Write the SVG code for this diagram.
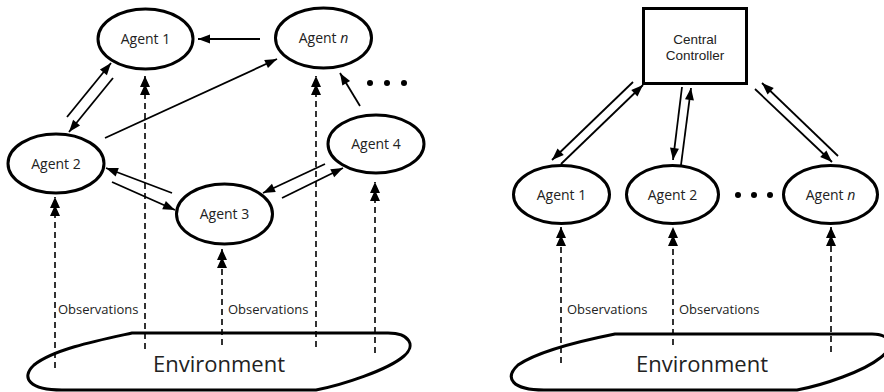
<svg xmlns="http://www.w3.org/2000/svg" width="884" height="392" viewBox="0 0 884 392">
<defs>
<marker id="ah" markerUnits="userSpaceOnUse" markerWidth="16" markerHeight="12" viewBox="-13 -6 14 12" refX="0" refY="0" orient="auto">
<path d="M0,0 L-12,-4.5 L-12,4.5 Z" fill="#000"/>
</marker>
<marker id="dh" markerUnits="userSpaceOnUse" markerWidth="22" markerHeight="12" viewBox="-21 -6 22 12" refX="0" refY="0" orient="auto">
<path d="M0,0 L-11,-5 L-11,5 Z M-8,0 L-19,-5 L-19,5 Z" fill="#000"/>
</marker>
<style>
.node{fill:#fff;stroke:#000;stroke-width:3}
.env{fill:#fff;stroke:#000;stroke-width:3}
.lbl{font-family:"Open Sans","Noto Sans",sans-serif;font-size:14px;fill:#222;text-anchor:middle}
.cc{font-family:"Liberation Sans",Arial,sans-serif;font-size:13.5px;fill:#222;text-anchor:middle}
.obs{font-family:"Open Sans","Noto Sans",sans-serif;font-size:13px;fill:#222}
.envt{font-family:"Open Sans","Noto Sans",sans-serif;font-size:22px;fill:#222;text-anchor:middle}
.sol{stroke:#000;stroke-width:1.8;fill:none;marker-end:url(#ah)}
.dash{stroke:#000;stroke-width:1.6;stroke-dasharray:6,4;fill:none;marker-end:url(#dh)}
</style>
</defs>
<g id="env-left">
<path class="env" d="M132,333 L388,333 C410,333 416,346 404,356 C388,370 342,385 316,390 L62,390 C30,390 20,378 34,365 C54,349 100,340 132,333 Z"/>
<text class="envt" x="219" y="372">Environment</text>
</g>
<g id="env-right">
<path class="env" d="M615,334 L872,334 C892,334 894,348 880,358 C864,371 824,385 797,390 L544,390 C512,390 504,378 518,365 C540,350 585,340 615,334 Z"/>
<text class="envt" x="702" y="372">Environment</text>
</g>
<g id="connectors">
<line class="dash" x1="55" y1="368" x2="55" y2="197"/>
<line class="dash" x1="145" y1="349" x2="145" y2="76"/>
<line class="dash" x1="222" y1="345" x2="222" y2="249"/>
<line class="dash" x1="316" y1="347" x2="316" y2="76"/>
<line class="dash" x1="375" y1="353" x2="375" y2="182"/>
<line class="dash" x1="561" y1="363" x2="561" y2="227"/>
<line class="dash" x1="673" y1="345" x2="673" y2="227"/>
<line class="dash" x1="831" y1="352" x2="831" y2="227"/>
<line class="sol" x1="260" y1="39" x2="198" y2="39"/>
<line class="sol" x1="67" y1="117" x2="111" y2="63"/>
<line class="sol" x1="113" y1="78" x2="69" y2="132"/>
<line class="sol" x1="105" y1="138" x2="277" y2="59"/>
<line class="sol" x1="360" y1="106" x2="340" y2="73"/>
<line class="sol" x1="172" y1="193" x2="106" y2="168"/>
<line class="sol" x1="112" y1="182" x2="175" y2="210"/>
<line class="sol" x1="325" y1="164" x2="263" y2="193"/>
<line class="sol" x1="282" y1="198" x2="343" y2="168"/>
<line class="sol" x1="633" y1="82" x2="552" y2="160"/>
<line class="sol" x1="561" y1="164" x2="643" y2="85"/>
<line class="sol" x1="682" y1="87" x2="673" y2="160"/>
<line class="sol" x1="681" y1="165" x2="691" y2="88"/>
<line class="sol" x1="755" y1="89" x2="832" y2="162"/>
<line class="sol" x1="838" y1="156" x2="762" y2="83"/>
</g>
<g id="obs-labels">
<text class="obs" x="58" y="314">Observations</text>
<text class="obs" x="228" y="314">Observations</text>
<text class="obs" x="567" y="314">Observations</text>
<text class="obs" x="679" y="314">Observations</text>
</g>
<g id="agent1-left">
<ellipse class="node" cx="145.5" cy="39" rx="47.5" ry="30"/>
<text class="lbl" x="145.5" y="44">Agent 1</text>
</g>
<g id="agentn-left">
<ellipse class="node" cx="323.5" cy="38" rx="48" ry="30"/>
<text class="lbl" x="323.5" y="43">Agent <tspan font-style="italic">n</tspan></text>
</g>
<g id="agent2-left">
<ellipse class="node" cx="56" cy="163.5" rx="48" ry="29.5"/>
<text class="lbl" x="56" y="168.5">Agent 2</text>
</g>
<g id="agent3-left">
<ellipse class="node" cx="224.5" cy="214" rx="48" ry="30"/>
<text class="lbl" x="224.5" y="219">Agent 3</text>
</g>
<g id="agent4-left">
<ellipse class="node" cx="376" cy="144" rx="48" ry="29"/>
<text class="lbl" x="376" y="149">Agent 4</text>
</g>
<g id="dots-left">
<circle cx="370" cy="83" r="3"/>
<circle cx="387" cy="83" r="3"/>
<circle cx="404" cy="83" r="3"/>
</g>
<g id="central-controller">
<rect class="node" x="643.5" y="8.5" width="103" height="75"/>
<text class="cc" x="695" y="44">Central</text>
<text class="cc" x="695" y="59.5">Controller</text>
</g>
<g id="agent1-right">
<ellipse class="node" cx="561.5" cy="194.5" rx="48" ry="29"/>
<text class="lbl" x="561.5" y="199.5">Agent 1</text>
</g>
<g id="agent2-right">
<ellipse class="node" cx="672.5" cy="194.5" rx="46" ry="29"/>
<text class="lbl" x="672.5" y="199.5">Agent 2</text>
</g>
<g id="agentn-right">
<ellipse class="node" cx="830.5" cy="194.5" rx="47" ry="29"/>
<text class="lbl" x="830.5" y="199.5">Agent <tspan font-style="italic">n</tspan></text>
</g>
<g id="dots-right">
<circle cx="738" cy="195" r="3"/>
<circle cx="754" cy="195" r="3"/>
<circle cx="770" cy="195" r="3"/>
</g>
</svg>
